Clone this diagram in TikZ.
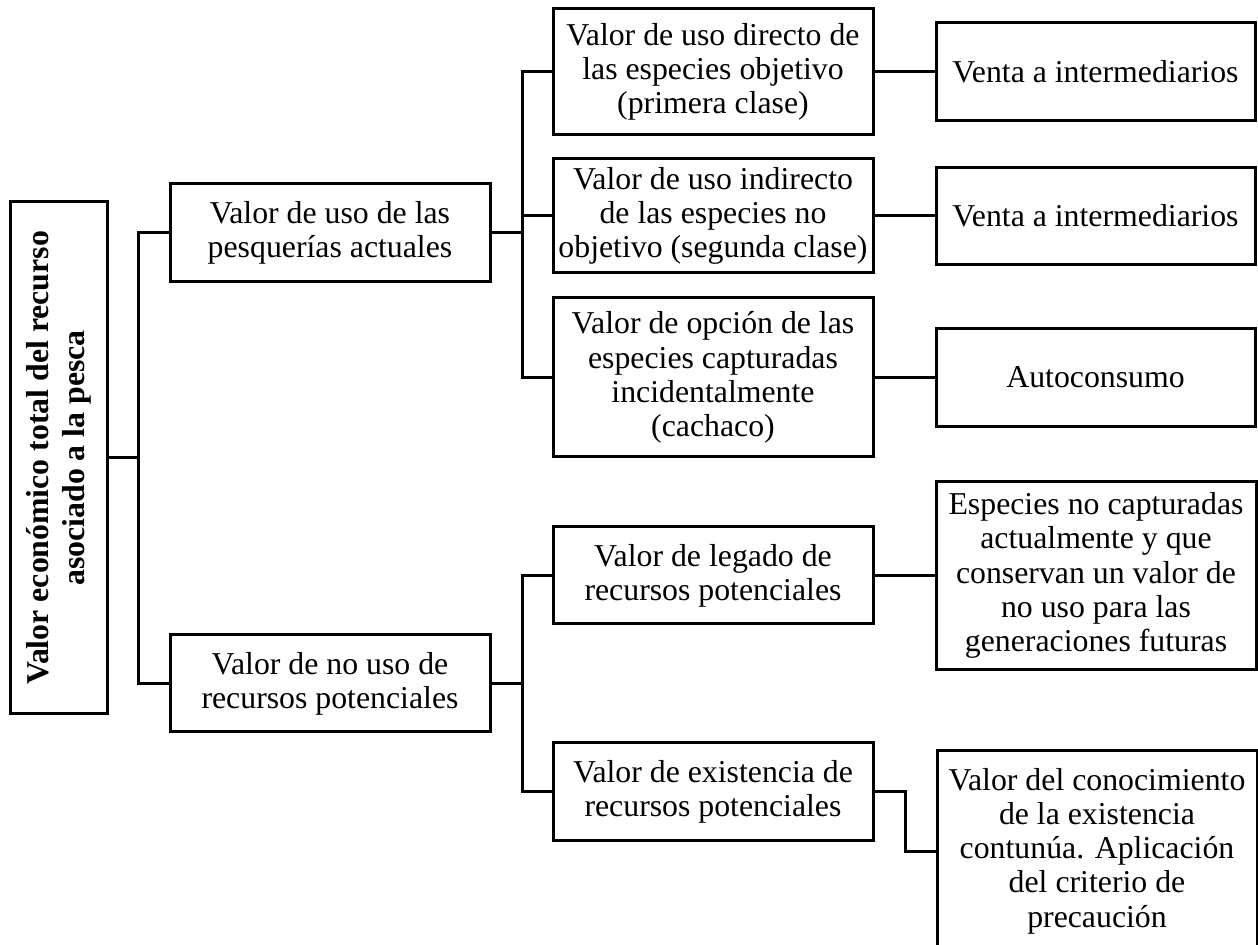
\documentclass[tikz,border=0pt]{standalone}
\usepackage{fontspec}
\setmainfont{Liberation Serif}
\usepackage{tikz}
\usetikzlibrary{positioning, calc}
\tikzstyle{box} = [draw, line width=1.5pt, align=center, inner sep=2pt, font=\fontsize{15.9}{17.1}\selectfont]
\tikzstyle{link} = [line width=1.5pt]

\begin{document}
\begin{tikzpicture}[x=0.5pt, y=-0.5pt]
    \useasboundingbox (0,0) rectangle (1258,945);

    % Root
    \node[box, rotate=90, minimum width=256pt, minimum height=48.5pt, font=\fontsize{15.9}{18}\selectfont\bfseries] (total) at (58.5,458)
        {Valor económico total del recurso\\asociado a la pesca};

    % Second level
    \node[box, minimum width=160pt, minimum height=49pt] (uso) at (330,233) {Valor de uso de las\\pesquerías actuales};
    \node[box, minimum width=160pt, minimum height=48.5pt] (nouso) at (330,683.5) {Valor de no uso de\\recursos potenciales};

    % Third level
    \node[box, minimum width=160pt, minimum height=63pt] (directo) at (713,72) {Valor de uso directo de\\las especies objetivo\\(primera clase)};
    \node[box, minimum width=160pt, minimum height=57pt] (indirecto) at (713,216) {Valor de uso indirecto\\de las especies no\\objetivo (segunda clase)};
    \node[box, minimum width=160pt, minimum height=79.5pt] (opcion) at (713,377.5) {Valor de opción de las\\especies capturadas\\incidentalmente\\(cachaco)};
    \node[box, minimum width=160pt, minimum height=48.5pt] (legado) at (713,575.5) {Valor de legado de\\recursos potenciales};
    \node[box, minimum width=160pt, minimum height=48.5pt] (existencia) at (713,791.5) {Valor de existencia de\\recursos potenciales};

    % Fourth level
    \node[box, minimum width=159.5pt, minimum height=49pt] (venta1) at (1095.5,72) {Venta a intermediarios};
    \node[box, minimum width=159.5pt, minimum height=48.5pt] (venta2) at (1095.5,216) {Venta a intermediarios};
    \node[box, minimum width=159.5pt, minimum height=49pt] (autoconsumo) at (1095.5,377.5) {Autoconsumo};
    \node[box, minimum width=160pt, minimum height=94pt] (especies) at (1096,575.5) {Especies no capturadas\\actualmente y que\\conservan un valor de\\no uso para las\\generaciones futuras};
    \node[box, minimum width=160pt, minimum height=100pt] (conocimiento) at (1097,851) {Valor del conocimiento\\de la existencia\\contunúa. Aplicación\\del criterio de\\precaución};

    % Connectors
    \coordinate (j1) at (138,458);
    \coordinate (j2) at (522,233);
    \coordinate (j3) at (522,683.5);
    \coordinate (j4) at (905,791.5);

    \draw[link] (total.south) -- (j1);
    \draw[link] (uso.west) -| (j1) |- (nouso.west);
    \draw[link] (uso.east) -- (j2);
    \draw[link] (directo.west) -| (j2) |- (opcion.west);
    \draw[link] (indirecto.west) -- (indirecto.west -| j2);
    \draw[link] (nouso.east) -- (j3);
    \draw[link] (legado.west) -| (j3) |- (existencia.west);
    \draw[link] (directo.east) -- (venta1.west);
    \draw[link] (indirecto.east) -- (venta2.west);
    \draw[link] (opcion.east) -- (autoconsumo.west);
    \draw[link] (legado.east) -- (especies.west);
    \draw[link] (existencia.east) -- (j4) |- (conocimiento.west);
\end{tikzpicture}
\end{document}
